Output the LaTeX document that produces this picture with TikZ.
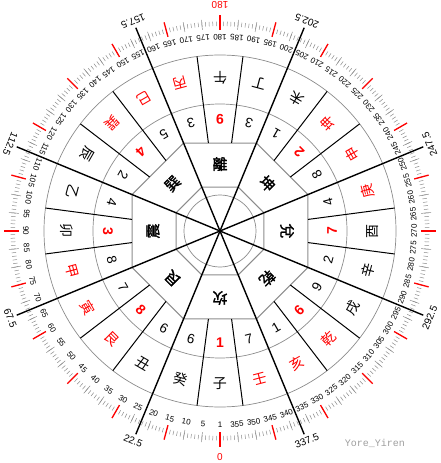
\documentclass[tikz,border=0pt]{standalone}
\usepackage{fontspec}
\setmainfont{Liberation Sans}
\newfontfamily\cjk{Noto Sans CJK TC}
\newfontfamily\cjkbold[FakeBold=1.6]{Noto Sans CJK TC}
\newfontfamily\mono{Liberation Mono}
\usetikzlibrary{positioning}
\definecolor{ringgray}{gray}{0.55}
\definecolor{markgray}{gray}{0.62}

\tikzset{
  ring/.style={draw=ringgray, line width=0.7pt},
  octa/.style={draw=ringgray, line width=1pt},
  mainline/.style={draw=black, line width=1.4pt},
  cellline/.style={draw=black, line width=1pt},
  tick/.style={draw=ringgray, line width=0.5pt},
  redtick/.style={draw=red, line width=1.3pt},
  deg/.style={font=\fontsize{8}{8}\selectfont, inner sep=0pt},
  mountain/.style={font=\cjk\fontsize{14}{14}\selectfont, inner sep=0pt},
  redmountain/.style={mountain, text=red},
  gua/.style={font=\cjkbold\fontsize{15}{15}\selectfont, inner sep=0pt},
  star/.style={font=\fontsize{13.5}{13.5}\selectfont, inner sep=0pt},
  redstar/.style={font=\bfseries\fontsize{14}{14}\selectfont, text=red, inner sep=0pt},
  bearing/.style={font=\fontsize{10}{10}\selectfont, inner sep=0pt},
  redbearing/.style={bearing, text=red},
}

\begin{document}
\begin{tikzpicture}[x=1pt,y=1pt]
    \useasboundingbox (-220,-232) rectangle (220,231);

    \foreach \d in {0,...,359}
        \draw[tick] (270-\d:205) -- (270-\d:209.5);
    \foreach \d in {0,5,...,355}
        \draw[tick] (270-\d:202) -- (270-\d:212);
    \foreach \d in {0,15,...,345}
        \draw[redtick] (270-\d:201) -- (270-\d:216);

    \draw[ring] (0,0) circle (36);
    \draw[ring] (0,0) circle (127);
    \draw[ring] (0,0) circle (176);
    \draw[octa] (247.5:47.6) \foreach \k in {1,...,7} { -- (247.5-45*\k:47.6) } -- cycle;
    \draw[octa] (247.5:95.25) \foreach \k in {1,...,7} { -- (247.5-45*\k:95.25) } -- cycle;

    \foreach \c in {0,45,...,315} {
        \draw[cellline] (270-\c-7.5:88.76) -- (270-\c-7.5:176);
        \draw[cellline] (270-\c+7.5:88.76) -- (270-\c+7.5:176);
    }

    \coordinate (center) at (0,0);
    \foreach \b [count=\i] in {22.5,67.5,112.5,157.5,202.5,247.5,292.5,337.5} {
        \coordinate (end-\i) at (270-\b:220);
        \draw[mainline] (center) -- (end-\i);
        \node[bearing, rotate=-\b] (b-\i) at (270-\b:227) {\b};
    }
    \node[redbearing] (b-0) at (270:226) {0};
    \node[redbearing, rotate=180] (b-180) at (90:226) {180};

    \node[deg] (d-0) at (270:194) {1};
    \foreach \d in {5,10,...,355}
        \node[deg, rotate=-\d] (d-\d) at (270-\d:194) {\d};

    \foreach \a/\t/\s in {0/子/mountain, 15/癸/mountain, 30/丑/mountain,
        45/艮/redmountain, 60/寅/redmountain, 75/甲/redmountain,
        90/卯/mountain, 105/乙/mountain, 120/辰/mountain,
        135/巽/redmountain, 150/巳/redmountain, 165/丙/redmountain,
        180/午/mountain, 195/丁/mountain, 210/未/mountain,
        225/坤/redmountain, 240/申/redmountain, 255/庚/redmountain,
        270/酉/mountain, 285/辛/mountain, 300/戌/mountain,
        315/乾/redmountain, 330/亥/redmountain, 345/壬/redmountain}
        \node[\s, rotate=-\a] (m-\a) at (270-\a:153) {\t};

    \foreach \a/\n/\s in {0/1/redstar, 15/6/star, 30/6/star, 45/8/redstar,
        60/7/star, 75/8/star, 90/3/redstar, 105/4/star, 120/2/star,
        135/4/redstar, 150/5/star, 165/3/star, 180/9/redstar, 195/3/star,
        210/1/star, 225/2/redstar, 240/8/star, 255/4/star, 270/7/redstar,
        285/2/star, 300/9/star, 315/6/redstar, 330/1/star, 345/7/star}
        \node[\s, rotate=-\a] (s-\a) at (270-\a:112) {\n};

    \foreach \a/\t in {0/坎, 45/艮, 90/震, 135/巽, 180/離, 225/坤, 270/兌, 315/乾}
        \node[gua, rotate=180-\a] (g-\a) at (270-\a:67) {\t};

    \node[font=\mono\fontsize{10}{10}\selectfont, text=markgray, inner sep=0pt] (mark) at (155,-212) {Yore\_Yiren};
\end{tikzpicture}
\end{document}
